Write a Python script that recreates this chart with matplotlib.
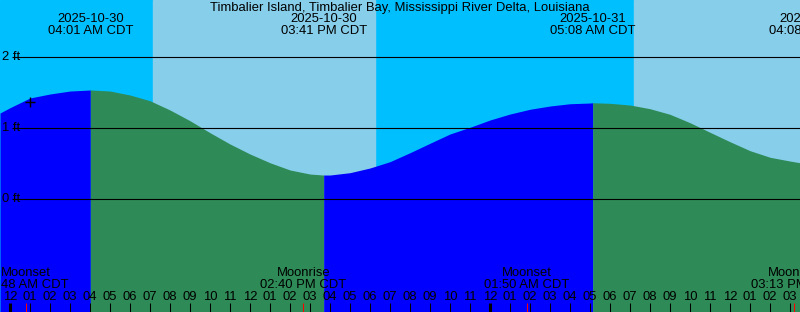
import numpy as np
import matplotlib.pyplot as plt

plt.rcParams['font.family'] = ['Liberation Sans', 'DejaVu Sans']

# Judul stasiun
title = "Timbalier Island, Timbalier Bay, Mississippi River Delta, Louisiana"

# Tinggi air (ft), jam sejak tengah malam 2025-10-30 (CDT)
hours = [-0.5, 0, 1, 2, 3, 4, 4.017, 5, 6, 7, 8, 9, 10, 11, 12, 13, 14, 15,
         15.683, 16, 17, 18, 19, 20, 21, 22, 23, 24, 25, 26, 27, 28, 29,
         29.133, 30, 31, 32, 33, 34, 35, 36, 37, 38, 39, 39.5]
heights = [1.215, 1.29, 1.427, 1.483, 1.525, 1.539, 1.54, 1.525, 1.469, 1.388,
           1.258, 1.107, 0.938, 0.779, 0.638, 0.515, 0.413, 0.356,
           0.342, 0.342, 0.375, 0.441, 0.530, 0.656, 0.789, 0.920, 1.014,
           1.117, 1.201, 1.268, 1.314, 1.346, 1.356,
           1.36, 1.352, 1.328, 1.276, 1.197, 1.079, 0.944, 0.811, 0.685,
           0.592, 0.539, 0.515]

# Pasang tinggi / surut
tide_times = [4.017, 15.683, 29.133, 40.133]
tide_dates = ["2025-10-30", "2025-10-30", "2025-10-31", "2025-10-31"]
tide_clock = ["04:01 AM CDT", "03:41 PM CDT", "05:08 AM CDT", "04:08 PM CDT"]

# Matahari terbit / terbenam
sunrise = [7.15, 31.2]
sunset = [18.25]

# Bulan
moon_times = [0.8, 14.667, 25.833, 39.217]
moon_events = ["Moonset", "Moonrise", "Moonset", "Moonrise"]
moon_clock = ["12:48 AM CDT", "02:40 PM CDT", "01:50 AM CDT", "03:13 PM CDT"]

# Penanda waktu sekarang
now_time = 1.0
now_height = 1.375

levels = [0, 1, 2]

x0, x1 = -0.5, 39.5
y0, y1 = -1.587, 2.807
fs = 9.4

fig = plt.figure(figsize=(8, 3.12), dpi=100)
ax = fig.add_axes([0, 0, 1, 1])
ax.set_xlim(x0, x1)
ax.set_ylim(y0, y1)
ax.axis('off')

# Latar: malam = deepskyblue, siang = skyblue
ax.axvspan(x0, x1, color='#00BFFF', zorder=0)
ax.axvspan(sunrise[0], sunset[0], color='#87CEEB', zorder=0)
ax.axvspan(sunrise[1], x1, color='#87CEEB', zorder=0)

# Isi air: naik = biru, turun = hijau
h = np.array(hours)
z = np.array(heights)
bounds = [x0] + [t for t in tide_times if x0 < t < x1] + [x1]
for a, b in zip(bounds[:-1], bounds[1:]):
    m = (h >= a) & (h <= b)
    seg_h, seg_z = h[m], z[m]
    col = '#0000FF' if seg_z[-1] > seg_z[0] else '#2E8B57'
    ax.fill_between(seg_h, seg_z, y0, color=col, lw=0, zorder=1)

# Garis level
ax.hlines(levels, 0.1, x1, color='black', lw=0.8, zorder=3)
for lv in levels:
    ax.text(-0.4, lv, f"{lv} ft", ha='left', va='center', fontsize=fs, zorder=4)

ax.plot(now_time, now_height, marker='+', color='black', ms=7, mew=1, zorder=4)

# Judul dan label pasang
fig.text(0.5, 1 - 7.5 / 312, title, ha='center', va='center', fontsize=fs)
tr = ax.get_xaxis_transform()
for t, d, c in zip(tide_times, tide_dates, tide_clock):
    ax.text(t, 1 - 19.5 / 312, d, transform=tr, ha='center', va='center', fontsize=fs)
    ax.text(t, 1 - 31.5 / 312, c, transform=tr, ha='center', va='center', fontsize=fs)

# Label bulan
for t, e, c in zip(moon_times, moon_events, moon_clock):
    ax.text(t, 1 - 273.5 / 312, e, transform=tr, ha='center', va='center', fontsize=fs, zorder=4)
    ax.text(t, 1 - 285.5 / 312, c, transform=tr, ha='center', va='center', fontsize=fs, zorder=4)

# Tick jam
for hr in range(0, 40):
    lab = f"{(hr % 12) or 12:02d}"
    ax.text(hr, 1 - 297.5 / 312, lab, transform=tr, ha='center', va='center', fontsize=fs, zorder=4)
    lw = 2.2 if hr % 24 == 0 else 0.75
    ax.vlines(hr, 0, 9 / 312, transform=tr, color='black', lw=lw, zorder=4)
for t in moon_times:
    ax.vlines(t, 0, 9 / 312, transform=tr, color='red', lw=0.75, zorder=5)

plt.savefig('out.png', dpi=100)
